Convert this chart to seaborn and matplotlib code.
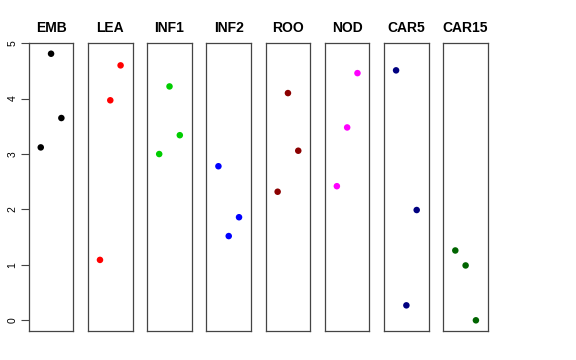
import pandas as pd
import matplotlib.pyplot as plt
import seaborn as sns

sns.set_theme(style="white")
plt.rcParams["font.family"] = ["Liberation Sans", "DejaVu Sans"]
plt.rcParams["text.color"] = "black"
plt.rcParams["ytick.color"] = "black"

# tissues shown left to right, three replicates each
tissues = ["EMB", "LEA", "INF1", "INF2", "ROO", "NOD", "CAR5", "CAR15"]
replicate = [1, 2, 3]
values = {
    "EMB":   [3.12, 4.81, 3.65],
    "LEA":   [1.09, 3.97, 4.60],
    "INF1":  [3.00, 4.22, 3.34],
    "INF2":  [2.78, 1.52, 1.86],
    "ROO":   [2.32, 4.10, 3.06],
    "NOD":   [2.42, 3.48, 4.46],
    "CAR5":  [4.51, 0.27, 1.99],
    "CAR15": [1.26, 0.99, 0.00],
}
colors = ["black", "red", "#00CD00", "blue", "#8B0000", "magenta", "#000080", "#006400"]

rows = []
for t in tissues:
    for r, v in zip(replicate, values[t]):
        rows.append({"tissue": t, "rep": r, "value": v})
df = pd.DataFrame(rows)

fig, axes = plt.subplots(1, len(tissues), figsize=(5.76, 3.6), dpi=100, sharey=True)
fig.subplots_adjust(left=0.050, right=0.847, top=0.880, bottom=0.081, wspace=0.33)

for i, (ax, t) in enumerate(zip(axes, tissues)):
    sub = df[df["tissue"] == t]
    sns.scatterplot(data=sub, x="rep", y="value", color=colors[i], s=22,
                    edgecolor="none", ax=ax, legend=False)
    ax.set_xlim(-0.16, 4.16)
    ax.set_ylim(-0.19, 5.0)
    ax.set_xticks([])
    ax.set_xlabel("")
    ax.set_ylabel("")
    ax.set_title(t, fontsize=10, fontweight="bold", color="black", pad=8)
    for sp in ax.spines.values():
        sp.set_visible(True)
        sp.set_color("#444444")
        sp.set_linewidth(0.9)
    if i == 0:
        ax.set_yticks([0, 1, 2, 3, 4, 5])
        ax.tick_params(axis="y", left=True, length=6, width=0.8, color="#444444",
                       labelsize=7.5, labelcolor="black", pad=2)
        for lab in ax.get_yticklabels():
            lab.set_rotation(90)
            lab.set_va("center")
    else:
        ax.tick_params(axis="y", left=False, labelleft=False)

fig.savefig("out.png", dpi=100)
